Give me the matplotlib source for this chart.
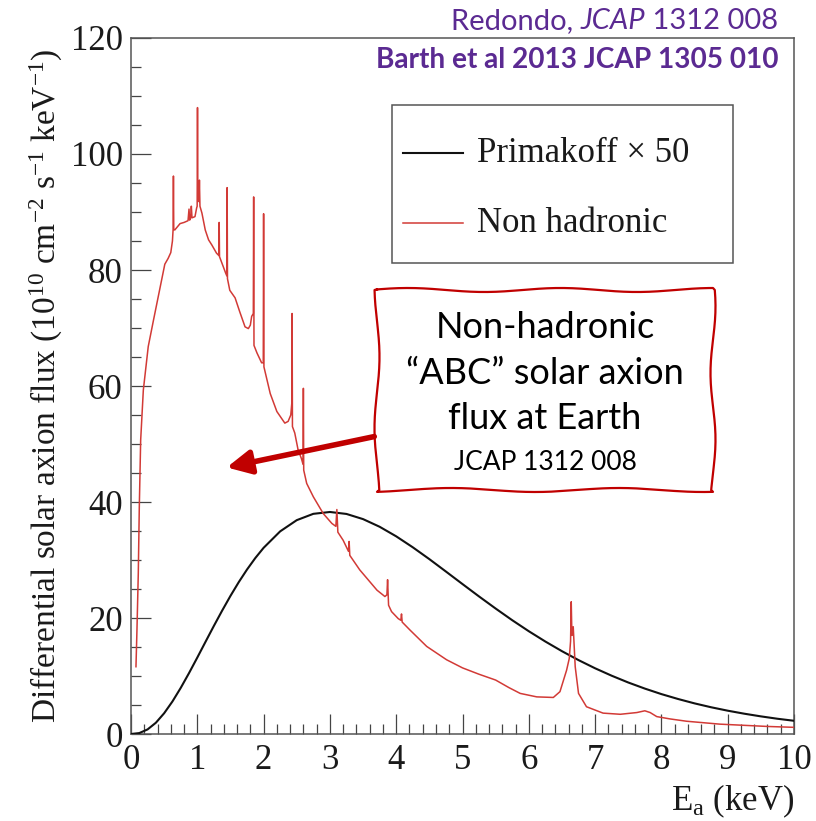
import numpy as np
import matplotlib
matplotlib.use("Agg")
import matplotlib.pyplot as plt
from matplotlib.lines import Line2D
from matplotlib.patches import Rectangle, FancyArrowPatch
from matplotlib.ticker import MultipleLocator

plt.rcParams['font.family'] = ['Liberation Serif', 'DejaVu Serif']
plt.rcParams['mathtext.fontset'] = 'custom'
plt.rcParams['mathtext.rm'] = 'Liberation Serif'
plt.rcParams['mathtext.it'] = 'Liberation Serif:italic'

# Primakoff spectrum (scaled x50), 1e10 cm^-2 s^-1 keV^-1
primakoff_e = [0.0, 0.125, 0.25, 0.375, 0.5, 0.625, 0.75, 0.875, 1.0, 1.125, 1.25,
               1.375, 1.5, 1.625, 1.75, 1.875, 2.0, 2.25, 2.5, 2.75,
               3.0, 3.25, 3.5, 3.75, 4.0, 4.25, 4.5, 4.75, 5.0, 5.25, 5.5, 5.75,
               6.0, 6.25, 6.5, 6.75, 7.0, 7.25, 7.5, 7.75, 8.0, 8.25, 8.5, 8.75,
               9.0, 9.25, 9.5, 9.75, 10.0]
primakoff_flux = [0.0, 0.16, 0.79, 1.94, 3.58, 5.61, 7.95, 10.50, 13.18, 15.92, 18.64,
                  21.28, 23.81, 26.18, 28.36, 30.34, 32.10, 34.94,
                  36.87, 37.96, 38.28, 37.94, 37.05, 35.73, 34.08, 32.19, 30.15,
                  28.01, 25.85, 23.71, 21.63, 19.62, 17.72, 15.94, 14.28, 12.74,
                  11.33, 10.05, 8.88, 7.83, 6.88, 6.04, 5.28, 4.61, 4.02, 3.50,
                  3.04, 2.63, 2.28]

# non-hadronic ABC flux (atomic recombination/deexcitation lines show as spikes)
nonhad_e = [0.075, 0.09, 0.11, 0.125, 0.146, 0.186, 0.26, 0.34, 0.44, 0.51, 0.56,
            0.60, 0.625, 0.635, 0.640, 0.645, 0.66, 0.74, 0.80, 0.86, 0.875, 0.885,
            0.90, 0.91, 0.92, 0.965, 0.99, 0.998, 1.003, 1.008, 1.025, 1.032, 1.04,
            1.07, 1.12, 1.17, 1.22, 1.29, 1.325, 1.330, 1.335, 1.39, 1.43, 1.445,
            1.450, 1.455, 1.49, 1.57, 1.64, 1.72, 1.77, 1.80, 1.82, 1.845, 1.850,
            1.855, 1.90, 1.97, 1.995, 2.000, 2.005, 2.10, 2.20, 2.32, 2.37, 2.41,
            2.425, 2.430, 2.435, 2.47, 2.52, 2.57, 2.595, 2.600, 2.605, 2.65, 2.75,
            2.90, 3.03, 3.09, 3.105, 3.12, 3.20, 3.28, 3.29, 3.30, 3.45, 3.71, 3.83,
            3.86, 3.87, 3.885, 3.93, 4.03, 4.07, 4.08, 4.09, 4.21, 4.46, 4.76, 5.0,
            5.25, 5.5, 5.7, 5.87, 6.12, 6.37, 6.47, 6.57, 6.61, 6.63, 6.64, 6.65, 6.67,
            6.70, 6.75, 6.87, 7.12, 7.38, 7.63, 7.75, 7.83, 7.93, 8.13, 8.38, 8.63,
            8.88, 9.25, 9.6, 10.0]
nonhad_flux = [11.6, 18.0, 27.7, 39.0, 50.7, 59.3, 66.8, 71.4, 77.0, 81.0, 82.0,
               83.0, 85.0, 87.0, 96.2, 87.0, 86.9, 88.0, 88.2, 88.5, 90.5, 88.6,
               89.0, 91.0, 89.0, 89.2, 90.7, 91.0, 108.0, 92.0, 91.8, 95.5, 91.0,
               89.8, 86.9, 85.2, 84.3, 82.9, 82.5, 88.2, 82.3, 80.6, 79.4, 79.0,
               94.2, 78.5, 76.5, 75.2, 72.8, 70.2, 69.9, 70.5, 72.0, 72.5, 92.6,
               67.0, 65.7, 64.0, 64.0, 89.7, 63.3, 58.7, 55.6, 53.6, 53.9, 55.0,
               57.0, 72.5, 53.0, 51.9, 49.0, 47.5, 46.5, 59.6, 45.5, 43.2, 40.9,
               38.0, 36.3, 35.8, 38.7, 34.8, 33.4, 31.5, 33.2, 30.8, 28.3, 24.8, 23.7,
               24.0, 26.6, 22.2, 21.1, 19.9, 19.6, 20.7, 19.3, 17.9, 15.1, 12.8, 11.4,
               10.3, 9.3, 8.0, 7.0, 6.4, 6.3, 7.3, 11.0, 13.0, 16.0, 22.8, 17.0, 18.5,
               11.6, 7.0, 4.7, 3.6, 3.4, 3.7, 4.0, 3.7, 3.0, 2.6, 2.2, 1.95,
               1.7, 1.5, 1.3, 1.15]

W, H = 816, 821
fig = plt.figure(figsize=(W / 100, H / 100), dpi=100)
ax = fig.add_axes([131 / W, 1 - 734 / H, (794 - 131) / W, (734 - 38) / H])


def px(x, y):
    # image pixel (origin top-left) -> figure fraction
    return x / W, 1 - y / H


ax.plot(primakoff_e, primakoff_flux, color='#111111', lw=1.5, zorder=3)
ax.plot(nonhad_e, nonhad_flux, color='#d23a36', lw=1.1, zorder=4)

ax.set_xlim(0, 10)
ax.set_ylim(0, 120)
ax.xaxis.set_major_locator(MultipleLocator(1))
ax.xaxis.set_minor_locator(MultipleLocator(0.2))
ax.yaxis.set_major_locator(MultipleLocator(20))
ax.yaxis.set_minor_locator(MultipleLocator(5))
ax.tick_params(which='both', direction='in', color='#444444', width=0.9,
               labelsize=25, labelcolor='#1a1a1a')
ax.tick_params(which='major', length=14.5)
ax.tick_params(which='minor', length=7.2)
ax.tick_params(axis='x', pad=7)
ax.tick_params(axis='y', pad=6)
for s in ax.spines.values():
    s.set_color('#555555')
    s.set_linewidth(1.1)

ax.set_ylabel(r'Differential solar axion flux (10$^{\mathregular{10}}$ cm$^{\mathregular{-2}}$ '
              r's$^{\mathregular{-1}}$ keV$^{\mathregular{-1}}$)', fontsize=24, color='#1a1a1a',
              labelpad=4)
ax.set_xlabel(r'E$_{\mathregular{a}}$ (keV)', fontsize=25, color='#1a1a1a', loc='right',
              labelpad=4)

# legend box
lx0, ly0 = px(392, 263)
lx1, ly1 = px(733, 105)
fig.add_artist(Rectangle((lx0, ly0), lx1 - lx0, ly1 - ly0, transform=fig.transFigure,
                         fill=True, facecolor='white', edgecolor='#555555', lw=1.1, zorder=5))
for yy, col, lab in [(153, '#111111', 'Primakoff \u00d7 50'),
                     (223, '#d23a36', 'Non hadronic')]:
    a, b = px(403, yy)
    c, _ = px(463, yy)
    fig.add_artist(Line2D([a, c], [b, b], transform=fig.transFigure, color=col,
                          lw=1.5 if col == '#111111' else 1.1, zorder=6))
    tx, ty = px(477, yy)
    fig.text(tx, ty, lab, fontsize=25, va='center', ha='left', color='#1a1a1a', zorder=6)

# references at the top
purple = '#5b2a92'
fig.canvas.draw()
rend = fig.canvas.get_renderer()
xr = 778
for piece, style in [(' 1312 008', 'normal'), ('JCAP', 'italic'), ('Redondo, ', 'normal')]:
    t = fig.text(xr / W, 1 - 29 / H, piece, ha='right', va='baseline', fontsize=21,
                 family=['Lato', 'DejaVu Sans'], style=style, color=purple)
    xr = t.get_window_extent(renderer=rend).x0
fig.text(778 / W, 1 - 68 / H, 'Barth et al 2013 JCAP 1305 010', ha='right', va='baseline',
         fontsize=20.2, family=['Lato', 'DejaVu Sans'], weight='bold', color=purple)

# wavy callout box
bx0, bx1, by0, by1 = 377, 713, 290, 490
n = 80
t = np.linspace(0, 1, n)
top_x = bx0 + (bx1 - bx0) * t
top_y = by0 - 2.0 * np.sin(2 * np.pi * 2.2 * t + 0.3)
right_y = by0 + (by1 - by0) * t
right_x = bx1 + 2.5 * np.sin(2 * np.pi * 1.5 * t + 0.8)
bot_x = bx1 - (bx1 - bx0) * t
bot_y = by1 + 2.0 * np.sin(2 * np.pi * 2.0 * t + 1.2)
left_y = by1 - (by1 - by0) * t
left_x = bx0 + 2.5 * np.sin(2 * np.pi * 1.4 * t + 2.0)
xs = np.concatenate([top_x, right_x, bot_x, left_x, top_x[:1]])
ys = np.concatenate([top_y, right_y, bot_y, left_y, top_y[:1]])
fig.add_artist(Line2D(xs / W, 1 - ys / H, transform=fig.transFigure, color='#c00000',
                      lw=1.6, zorder=7))

# arrow from the callout into the plot
fig.add_artist(FancyArrowPatch(px(377, 436), px(224, 468), transform=fig.transFigure,
                               arrowstyle='-|>,head_length=12,head_width=6', lw=4,
                               color='#c00000', mutation_scale=1.2, zorder=7))

cx = (bx0 + bx1) / 2
for yy, s, fs in [(327, 'Non-hadronic', 26), (373, '\u201cABC\u201d solar axion', 26),
                  (418, 'flux at Earth', 26), (462, 'JCAP 1312 008', 19)]:
    fig.text(cx / W, 1 - yy / H, s, ha='center', va='center', fontsize=fs,
             family=['Lato', 'DejaVu Sans'], color='black', zorder=8)

fig.savefig('out.png', dpi=100)
